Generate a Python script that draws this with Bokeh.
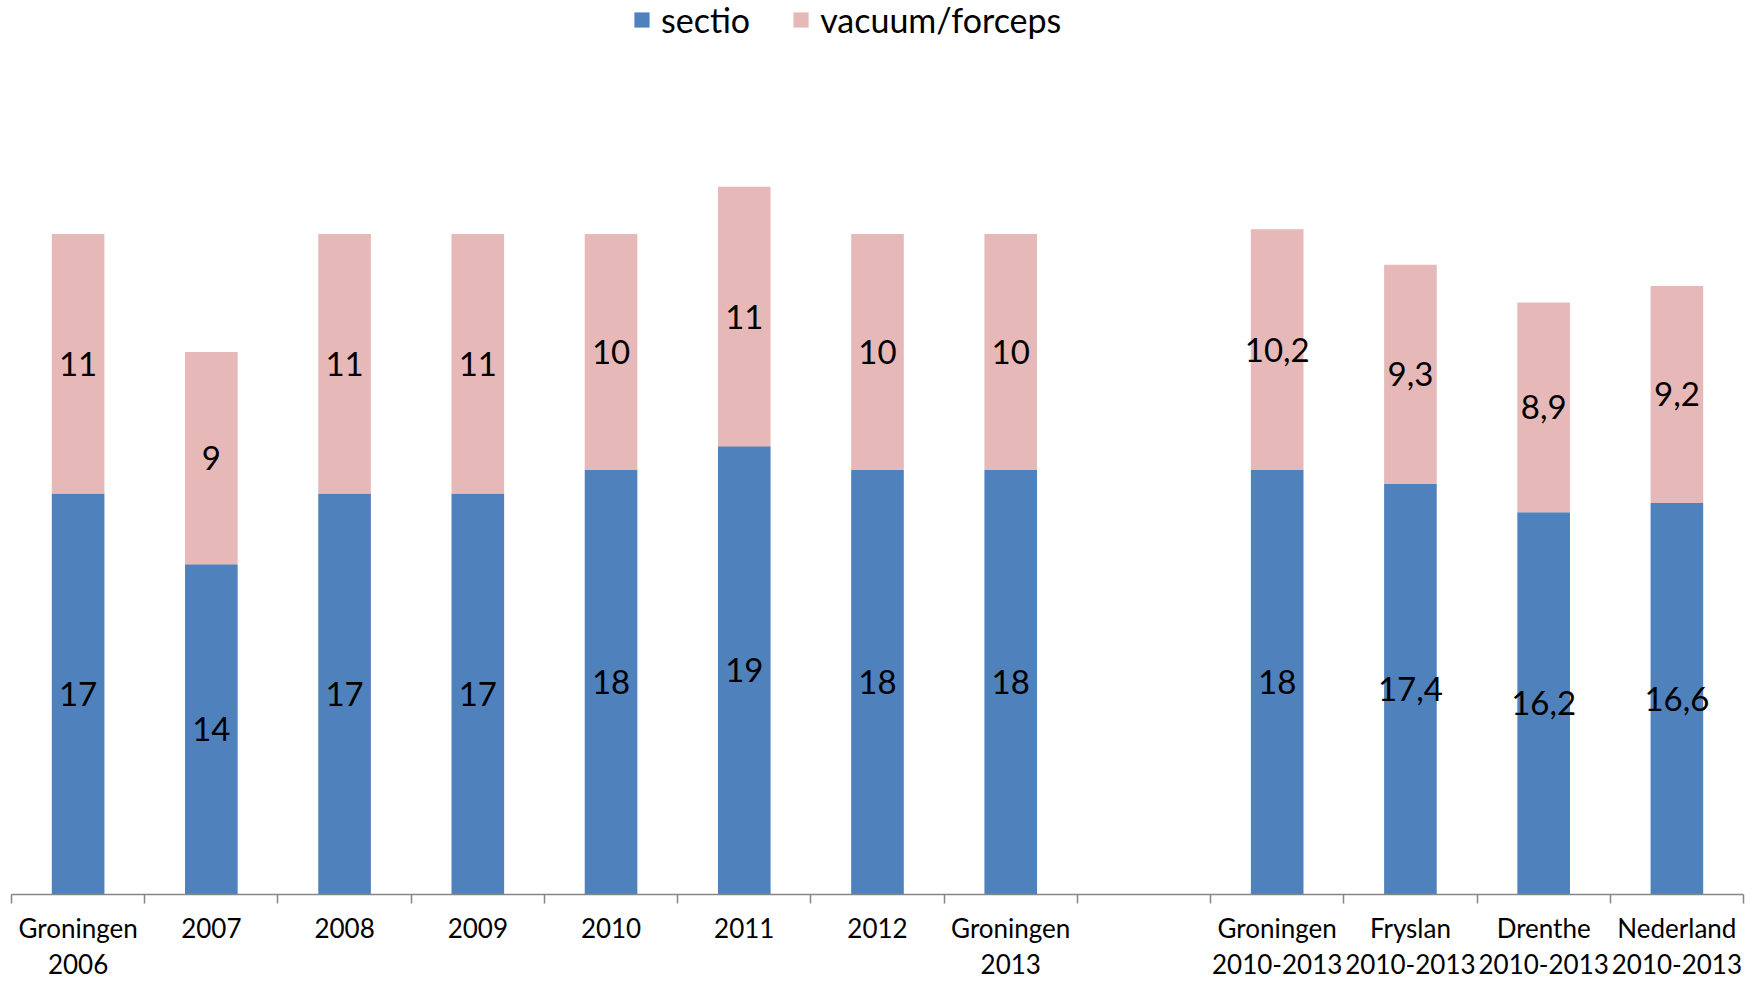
from bokeh.plotting import figure
from bokeh.models import ColumnDataSource, Range1d, FixedTicker, Legend, LegendItem
from bokeh.core.properties import value
from bokeh.embed import file_html
from bokeh.resources import INLINE

categories = ["Groningen\n2006", "2007", "2008", "2009", "2010", "2011", "2012",
              "Groningen\n2013", "", "Groningen\n2010-2013", "Fryslan\n2010-2013",
              "Drenthe\n2010-2013", "Nederland\n2010-2013"]
sectio = [17, 14, 17, 17, 18, 19, 18, 18, None, 18, 17.4, 16.2, 16.6]
vacuum = [11, 9, 11, 11, 10, 11, 10, 10, None, 10.2, 9.3, 8.9, 9.2]

BLUE = "#4F81BD"
PINK = "#E6B9B8"
FONT = "Lato"


def fmt(v):
    return f"{v:g}".replace(".", ",")


idx = [i for i, s in enumerate(sectio) if s is not None]
xs = [i + 0.5 for i in idx]
s_vals = [sectio[i] for i in idx]
v_vals = [vacuum[i] for i in idx]

src = ColumnDataSource(dict(
    x=xs, sectio=s_vals, vacuum=v_vals,
    s_mid=[s / 2 for s in s_vals],
    v_mid=[s + v / 2 for s, v in zip(s_vals, v_vals)],
    s_lab=[fmt(s) for s in s_vals],
    v_lab=[fmt(v) for v in v_vals],
))

p = figure(width=1755, height=983, x_range=Range1d(0, len(categories)),
           y_range=Range1d(0, 37.9), output_backend="svg", toolbar_location=None,
           y_axis_location=None, min_border_left=11, min_border_right=12,
           min_border_top=0, min_border_bottom=89)
p.outline_line_color = None
p.xgrid.visible = False
p.ygrid.visible = False
p.background_fill_color = "white"

rs = p.vbar_stack(["sectio", "vacuum"], x="x", width=0.395, source=src,
                  fill_color=[BLUE, PINK], line_color=None)

p.text(x="x", y="s_mid", text="s_lab", source=src, text_align="center",
       text_baseline="middle", text_font=value(FONT), text_font_size="33px",
       text_color="black")
p.text(x="x", y="v_mid", text="v_lab", source=src, text_align="center",
       text_baseline="middle", text_font=value(FONT), text_font_size="33px",
       text_color="black")

ax = p.xaxis[0]
centers = [i + 0.5 for i in range(len(categories))]
ax.ticker = FixedTicker(ticks=centers, minor_ticks=list(range(len(categories) + 1)))
ax.major_label_overrides = {c: lab for c, lab in zip(centers, categories)}
ax.major_tick_in = 0
ax.major_tick_out = 0
ax.minor_tick_in = 0
ax.minor_tick_out = 9
ax.minor_tick_line_color = "#868686"
ax.axis_line_color = "#868686"
ax.axis_line_width = 1.5
ax.minor_tick_line_width = 1.5
ax.major_label_text_font = FONT
ax.major_label_text_font_size = "26px"
ax.major_label_text_color = "black"
ax.major_label_text_line_height = 1.15
ax.major_label_standoff = 8

legend = Legend(items=[LegendItem(label="sectio", renderers=[rs[0]]),
                       LegendItem(label="vacuum/forceps", renderers=[rs[1]])],
                orientation="horizontal", location=(621, 854),
                border_line_color=None, background_fill_alpha=0,
                glyph_width=19, glyph_height=19, label_text_font=FONT,
                label_text_font_size="34px", label_text_color="black",
                spacing=41, label_standoff=10, padding=0, margin=0)
p.add_layout(legend)

open("out.html", "w").write(file_html(p, INLINE))
